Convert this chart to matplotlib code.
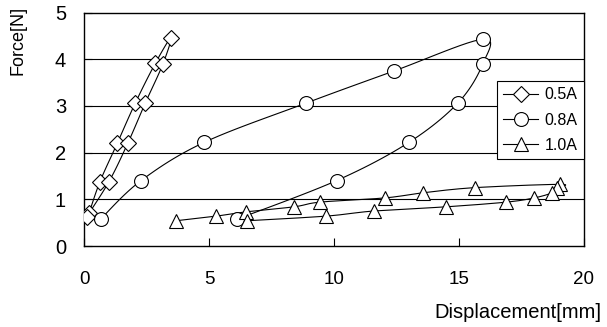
import numpy as np
import matplotlib
matplotlib.use("Agg")
import matplotlib.pyplot as plt
from matplotlib.lines import Line2D

# Data (displacement [mm], force [N])
x_05 = [0.2, 0.64, 1.33, 2.05, 2.85, 3.48, 3.15, 2.45, 1.75, 1.0, 0.1]
f_05 = [0.70, 1.38, 2.20, 3.06, 3.91, 4.46, 3.89, 3.06, 2.20, 1.38, 0.62]

x_08 = [0.67, 2.28, 4.81, 8.88, 12.41, 15.97, 15.95, 14.97, 13.0, 10.1, 6.1]
f_08 = [0.58, 1.40, 2.22, 3.06, 3.75, 4.43, 3.90, 3.07, 2.22, 1.40, 0.57]

x_10 = [3.67, 5.29, 6.47, 8.41, 9.45, 12.04, 13.57, 15.64, 19.04,
        18.93, 18.73, 18.01, 16.9, 14.5, 11.6, 9.68, 6.5]
f_10 = [0.54, 0.64, 0.73, 0.84, 0.94, 1.03, 1.14, 1.25, 1.32,
        1.24, 1.14, 1.03, 0.94, 0.84, 0.75, 0.64, 0.54]

labels = ["0.5A", "0.8A", "1.0A"]
markers = ["D", "o", "^"]
msizes = [8, 10, 10]


def smooth(xs, ys, n=12):
    # Catmull-Rom curve through the points, like a spreadsheet "smoothed line"
    p = np.column_stack([xs, ys]).astype(float)
    p = np.vstack([p[0], p, p[-1]])
    out = []
    for i in range(1, len(p) - 2):
        p0, p1, p2, p3 = p[i - 1], p[i], p[i + 1], p[i + 2]
        t = np.linspace(0, 1, n, endpoint=False)[:, None]
        seg = 0.5 * ((2 * p1) + (-p0 + p2) * t + (2 * p0 - 5 * p1 + 4 * p2 - p3) * t ** 2
                     + (-p0 + 3 * p1 - 3 * p2 + p3) * t ** 3)
        out.append(seg)
    out.append(p[-2][None, :])
    out = np.vstack(out)
    return out[:, 0], out[:, 1]


plt.rcParams['font.family'] = ['Liberation Sans', 'DejaVu Sans']

fig = plt.figure(figsize=(6.07, 3.27), dpi=100)
ax = fig.add_axes([0.1384, 0.2477, 0.8237, 0.714])

series = [(x_05, f_05), (x_08, f_08), (x_10, f_10)]
for (xs, ys), m, ms in zip(series, markers, msizes):
    sx, sy = smooth(xs, ys)
    ax.plot(sx, sy, color="black", lw=0.8, zorder=3)
    ax.plot(xs, ys, ls="none", marker=m, ms=ms, mfc="white", mec="black",
            mew=0.8, zorder=4)

ax.set_xlim(0, 20)
ax.set_ylim(0, 5)
ax.set_xticks([0, 5, 10, 15, 20])
ax.set_yticks([0, 1, 2, 3, 4, 5])
for yv in [1, 2, 3, 4]:
    ax.axhline(yv, color="black", lw=0.8, zorder=1)
ax.tick_params(axis="x", direction="in", length=6, width=0.8, pad=18, labelsize=13.5)
ax.tick_params(axis="y", direction="in", length=6, width=0.8, pad=13, labelsize=14.5)
for s in ax.spines.values():
    s.set_linewidth(1.0)

handles = [Line2D([], [], color="black", lw=0.8, marker=m, ms=ms, mfc="white",
                  mec="black", mew=0.8) for m, ms in zip(markers, msizes)]
leg = ax.legend(handles, labels, loc="upper right", bbox_to_anchor=(1.0, 0.707),
                fontsize=11.5, frameon=True, fancybox=False, framealpha=1,
                edgecolor="black", handlelength=2.2, borderpad=0.4,
                labelspacing=0.65, handletextpad=0.4, borderaxespad=0)
leg.get_frame().set_linewidth(0.8)

fig.text(18 / 607, 1 - 40 / 327, "Force[N]", rotation=90, ha="center",
         va="center", fontsize=13)
fig.text(601 / 607, 1 - 313 / 327, "Displacement[mm]", ha="right",
         va="center", fontsize=14.5)

fig.savefig("out.png", dpi=100)
